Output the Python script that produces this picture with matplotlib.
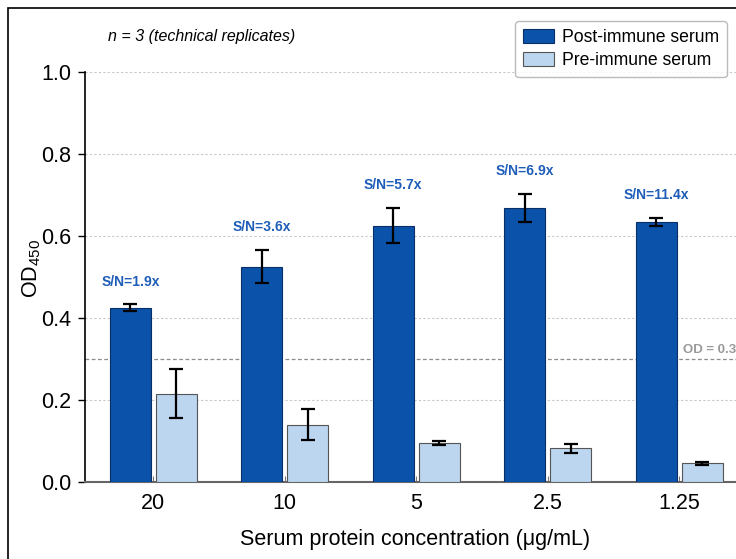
import numpy as np
import matplotlib
matplotlib.use("Agg")
import matplotlib.pyplot as plt
from matplotlib.patches import Rectangle

plt.rcParams['font.family'] = ['Liberation Sans', 'DejaVu Sans']
plt.rcParams['mathtext.fontset'] = 'custom'
plt.rcParams['mathtext.rm'] = 'Liberation Sans'

# data
concs = ['20', '10', '5', '2.5', '1.25']
post_mean = [0.425, 0.525, 0.625, 0.668, 0.635]
post_err = [0.008, 0.040, 0.043, 0.035, 0.010]
pre_mean = [0.215, 0.140, 0.095, 0.082, 0.046]
pre_err = [0.060, 0.038, 0.004, 0.011, 0.004]
sn_labels = ['S/N=1.9x', 'S/N=3.6x', 'S/N=5.7x', 'S/N=6.9x', 'S/N=11.4x']
yticks = [0.0, 0.2, 0.4, 0.6, 0.8, 1.0]
cutoff = 0.3

post_col = '#0A52AA'
pre_col = '#BBD6EE'
sn_col = '#1E5DB8'

fig = plt.figure(figsize=(7.36, 5.59), dpi=100)
ax = fig.add_axes([85/736, 77/559, 660/736, 410/559])

x = np.arange(len(concs))
w = 0.31
off = 0.175

ax.bar(x - off, post_mean, w, color=post_col, edgecolor='#0A2F66', linewidth=0.8,
       label='Post-immune serum', zorder=3)
ax.bar(x + off, pre_mean, w, color=pre_col, edgecolor='#555555', linewidth=0.8,
       label='Pre-immune serum', zorder=3)
ax.errorbar(x - off, post_mean, yerr=post_err, fmt='none', ecolor='black',
            elinewidth=1.6, capsize=5, capthick=1.6, zorder=4)
ax.errorbar(x + off, pre_mean, yerr=pre_err, fmt='none', ecolor='black',
            elinewidth=1.6, capsize=5, capthick=1.6, zorder=4)

for xi, m, e, lab in zip(x, post_mean, post_err, sn_labels):
    ax.text(xi - off, m + e + 0.056, lab, ha='center', va='center',
            color=sn_col, fontsize=10, fontweight='bold', zorder=5)

# grid and cutoff
for yt in yticks[1:]:
    ax.axhline(yt, color='#C8C8C8', linestyle=(0, (2, 2)), linewidth=0.8, zorder=1)
ax.axhline(cutoff, color='#8C8C8C', linestyle=(0, (3, 2)), linewidth=0.9, zorder=2)
ax.text(4.03, cutoff + 0.022, 'OD = 0.3', color='#999999', fontsize=9.5,
        fontweight='bold', ha='left', va='center', zorder=5)

ax.set_xlim(-0.52, 4.5)
ax.set_ylim(0, 1.0)
ax.set_xticks(x)
ax.set_xticklabels(concs, fontsize=15.5)
ax.set_yticks(yticks)
ax.set_yticklabels(['%.1f' % t for t in yticks], fontsize=15.5)
ax.tick_params(axis='x', direction='in', length=4, color='#777777', pad=8)
ax.tick_params(axis='y', direction='out', length=5, width=1, pad=5)

ax.spines['top'].set_visible(False)
ax.spines['right'].set_visible(False)
ax.spines['left'].set_bounds(0, 1.0)
ax.spines['left'].set_linewidth(1.2)
ax.spines['bottom'].set_color('#666666')
ax.spines['bottom'].set_linewidth(1.5)

ax.set_xlabel('Serum protein concentration (\u03bcg/mL)', fontsize=15.5, labelpad=11)
ax.set_ylabel(r'OD$_{\mathrm{450}}$', fontsize=15.5)
ax.yaxis.set_label_coords(-0.064, 0.52)

fig.text(108/736, 1 - 37/559, 'n = 3 (technical replicates)', fontsize=11.5,
         style='italic', ha='left', va='center')

leg = ax.legend(loc='upper left', bbox_to_anchor=(515/736, 1 - 21/559),
                bbox_transform=fig.transFigure, fontsize=12.7, frameon=True,
                fancybox=True, edgecolor='#AAAAAA', handlelength=1.75,
                handleheight=0.8, handletextpad=0.45, borderpad=0.45,
                labelspacing=0.35, borderaxespad=0)
leg.get_frame().set_linewidth(1.0)

# frame around the figure (cropped at right/bottom)
fig.patches.append(Rectangle((8/736, -0.1), 1.2, 1.1 - 8/559, transform=fig.transFigure,
                             fill=False, edgecolor='black', linewidth=1.2))

fig.savefig('out.png', dpi=100)
